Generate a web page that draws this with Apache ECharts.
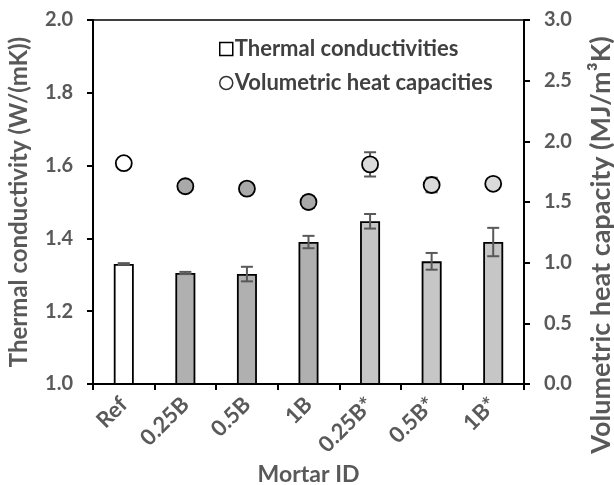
<!DOCTYPE html>
<html>
<head>
<meta charset="utf-8">
<script src="https://cdn.jsdelivr.net/npm/echarts@6/dist/echarts.min.js"></script>
<style>
  html, body { margin: 0; padding: 0; background: #fff; }
  #chart { width: 614px; height: 485px; }
</style>
</head>
<body>
<div id="chart"></div>
<script>
// values
const mortarIds = ['Ref', '0.25B', '0.5B', '1B', '0.25B*', '0.5B*', '1B*']
const conductivity = [1.33, 1.305, 1.302, 1.39, 1.447, 1.337, 1.39]
const conductivityErr = [0.002, 0.003, 0.02, 0.017, 0.02, 0.023, 0.039]
const heatCapacity = [1.82, 1.63, 1.61, 1.50, 1.81, 1.64, 1.65]
const heatCapacityErr = [0.02, 0, 0, 0.05, 0.10, 0.06, 0]
const mortarGroup = ['ref', 'B', 'B', 'B', 'S', 'S', 'S']

const barFill = { ref: '#ffffff', B: '#b0b0b0', S: '#c6c6c6' }
const dotFill = { ref: '#ffffff', B: '#a9a9a9', S: '#dadada' }

const grey = '#595959'
const font = 'Lato'

function errorBars(params, api) {
  const x = api.value(0)
  const v = api.value(1)
  const e = api.value(2)
  if (!e) return null
  const hi = api.coord([x, v + e])
  const lo = api.coord([x, v - e])
  const hw = 6
  const style = { stroke: grey, lineWidth: 2 }
  return {
    type: 'group',
    children: [
      { type: 'line', shape: { x1: hi[0], y1: hi[1], x2: lo[0], y2: lo[1] }, style },
      { type: 'line', shape: { x1: hi[0] - hw, y1: hi[1], x2: hi[0] + hw, y2: hi[1] }, style },
      { type: 'line', shape: { x1: lo[0] - hw, y1: lo[1], x2: lo[0] + hw, y2: lo[1] }, style }
    ]
  }
}

const tickLabel = { fontFamily: font, fontWeight: 'bold', fontSize: 20, color: grey }

const chart = echarts.init(document.getElementById('chart'))
chart.setOption({
  animation: false,
  backgroundColor: '#fff',
  textStyle: { fontFamily: font },
  grid: {
    left: 93, right: 90, top: 20, bottom: 101,
    outerBoundsMode: 'none',
    show: true, borderColor: '#000', borderWidth: 1.5, backgroundColor: 'transparent'
  },
  legend: {
    orient: 'vertical',
    left: 214,
    top: 33,
    itemGap: 12,
    itemWidth: 13,
    itemHeight: 13,
    textStyle: { fontFamily: font, fontWeight: 'bold', fontSize: 22, color: '#404040', padding: [0, 0, 0, -3] },
    data: [
      { name: 'Thermal conductivities', icon: 'rect', itemStyle: { color: '#fff', borderColor: '#000', borderWidth: 1.5 } },
      { name: 'Volumetric heat capacities', icon: 'circle', itemStyle: { color: '#fff', borderColor: '#000', borderWidth: 1.5 } }
    ]
  },
  xAxis: {
    type: 'category',
    data: mortarIds,
    boundaryGap: true,
    name: 'Mortar ID',
    nameLocation: 'middle',
    nameGap: 75,
    nameTextStyle: { fontFamily: font, fontWeight: 'bold', fontSize: 23, color: grey },
    axisLine: { lineStyle: { color: '#000', width: 2 } },
    axisTick: { show: true, length: 6, lineStyle: { color: '#000', width: 2 } },
    axisLabel: Object.assign({ interval: 0, rotate: 45, margin: 17 }, tickLabel, { fontSize: 22 }),
    splitLine: { show: false }
  },
  yAxis: [
    {
      type: 'value',
      min: 1, max: 2, interval: 0.2,
      name: 'Thermal conductivity (W/(mK))',
      nameLocation: 'middle',
      nameGap: 62,
      nameTextStyle: { fontFamily: font, fontWeight: 'bold', fontSize: 24, color: grey },
      axisLine: { show: true, lineStyle: { color: '#000', width: 2 } },
      axisTick: { show: true, length: 6, lineStyle: { color: '#000', width: 2 } },
      axisLabel: Object.assign({ margin: 20, formatter: v => v.toFixed(1) }, tickLabel),
      splitLine: { show: false }
    },
    {
      type: 'value',
      position: 'right',
      min: 0, max: 3, interval: 0.5,
      axisLine: { show: true, lineStyle: { color: '#000', width: 2 } },
      axisTick: { show: true, length: 6, lineStyle: { color: '#000', width: 2 } },
      axisLabel: Object.assign({ margin: 20, formatter: v => v.toFixed(1) }, tickLabel),
      splitLine: { show: false }
    }
  ],
  graphic: [{
    type: 'text',
    x: 601,
    y: 245,
    rotation: Math.PI / 2,
    style: {
      text: 'Volumetric heat capacity (MJ/m³K)',
      fontFamily: font, fontWeight: 'bold', fontSize: 27, fill: grey,
      align: 'center', verticalAlign: 'middle'
    }
  }],
  series: [
    {
      name: 'Thermal conductivities',
      type: 'bar',
      yAxisIndex: 0,
      barWidth: 20,
      z: 2,
      data: conductivity.map((v, i) => ({
        value: v,
        itemStyle: { color: barFill[mortarGroup[i]], borderColor: '#000', borderWidth: 1.8 }
      }))
    },
    {
      type: 'custom',
      yAxisIndex: 0,
      z: 3,
      renderItem: errorBars,
      encode: { x: 0, y: 1 },
      data: conductivity.map((v, i) => [i, v, conductivityErr[i]])
    },
    {
      type: 'custom',
      yAxisIndex: 1,
      z: 3,
      renderItem: errorBars,
      encode: { x: 0, y: 1 },
      data: heatCapacity.map((v, i) => [i, v, heatCapacityErr[i]])
    },
    {
      name: 'Volumetric heat capacities',
      type: 'scatter',
      yAxisIndex: 1,
      symbol: 'circle',
      symbolSize: 16,
      z: 4,
      data: heatCapacity.map((v, i) => ({
        value: [i, v],
        itemStyle: { color: dotFill[mortarGroup[i]], borderColor: '#000', borderWidth: 1.8, opacity: 1 }
      }))
    }
  ]
})
</script>
</body>
</html>
